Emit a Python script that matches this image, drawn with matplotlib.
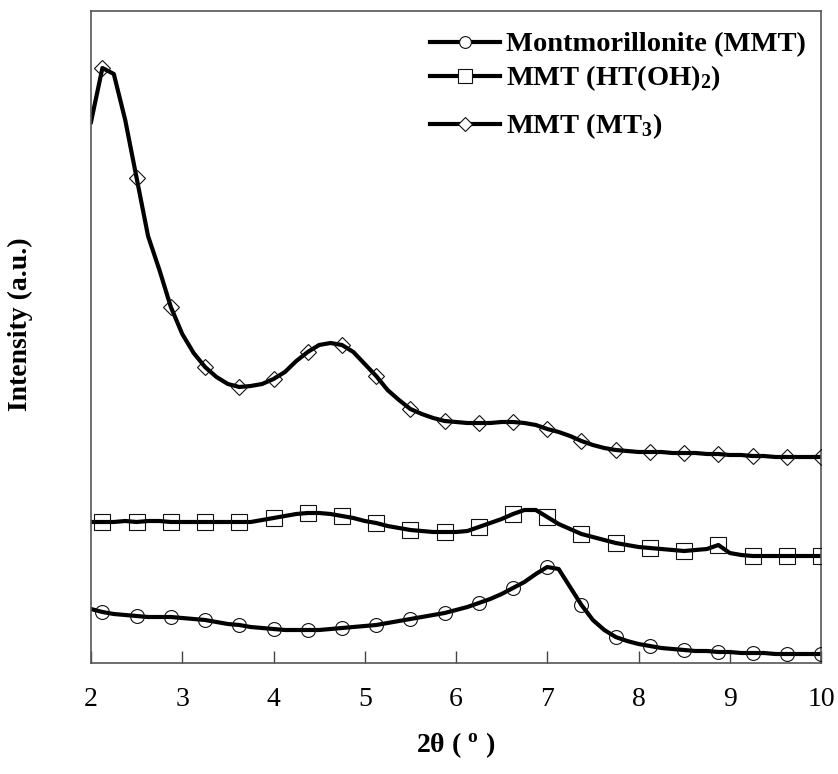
import numpy as np
import matplotlib
matplotlib.use("Agg")
import matplotlib.pyplot as plt
from matplotlib.lines import Line2D

plt.rcParams['font.family'] = ['Liberation Serif', 'DejaVu Serif']
plt.rcParams['mathtext.fontset'] = 'custom'
plt.rcParams['mathtext.rm'] = 'Liberation Serif:bold'
plt.rcParams['mathtext.bf'] = 'Liberation Serif:bold'
plt.rcParams['mathtext.it'] = 'Liberation Serif:bold:italic'

# 2theta grid (degrees), step 0.125
two_theta = np.arange(65) * 0.125 + 2.0

# Intensities (a.u.)
mt3 = [536, 590, 584, 538, 480, 422, 388, 351, 324, 305, 291, 281, 274, 271, 272, 274,
       279, 286, 297, 306, 313, 315, 313, 306, 294, 282, 268, 258, 249, 244, 240, 237,
       236, 235, 235, 235, 236, 236, 235, 233, 229, 226, 222, 217, 213, 210, 208, 207,
       206, 206, 206, 205, 205, 205, 204, 204, 203, 203, 202, 202, 201, 201, 201, 201, 201]
ht_oh2 = [136, 136, 136, 137, 136, 137, 137, 136, 136, 136, 136, 136, 136, 136, 136, 138,
          140, 142, 144, 145, 145, 144, 142, 140, 137, 135, 132, 130, 128, 127, 126, 126,
          126, 127, 131, 135, 139, 144, 148, 148, 141, 134, 129, 124, 121, 118, 115, 113,
          111, 110, 109, 108, 107, 108, 109, 113, 105, 103, 102, 102, 102, 102, 102, 102, 102]
mmt = [49, 46, 44, 43, 42, 41, 41, 41, 40, 39, 38, 36, 34, 33, 31, 30,
       29, 28, 28, 28, 28, 29, 30, 31, 32, 33, 35, 37, 39, 41, 43, 45,
       48, 51, 55, 59, 64, 70, 76, 84, 91, 89, 71, 53, 38, 28, 21, 17,
       14, 12, 10, 9, 8, 7, 7, 6, 6, 5, 5, 5, 4, 4, 4, 4, 4]

labels = ['Montmorillonite (MMT)', r'MMT (HT(OH)$_{\mathbf{2}}$)', r'MMT (MT$_{\mathbf{3}}$)']
xticks = [2, 3, 4, 5, 6, 7, 8, 9, 10]

W, H = 838, 774
fig = plt.figure(figsize=(W / 100, H / 100), dpi=100)
ax = fig.add_axes([91 / W, 1 - 663 / H, 730 / W, 652 / H])

series = [(mmt, 'o', 10), (ht_oh2, 's', 11.5), (mt3, 'D', 8.5)]
for (vals, mk, ms) in series:
    ax.plot(two_theta, vals, color='black', lw=3.0, zorder=2)
    ax.plot(two_theta, vals, linestyle='none', marker=mk, ms=ms, markevery=(1, 3),
            mfc='none', mec='#111111', mew=0.8, zorder=3)

ax.set_xlim(2, 10)
ax.set_ylim(-5, 647)
ax.set_xticks(xticks)
ax.set_yticks([])
ax.tick_params(axis='x', direction='in', length=8.6, width=1, color='#444444',
               labelsize=20, pad=17)
for s in ax.spines.values():
    s.set_color('#555555')
    s.set_linewidth(1.2)

ax.set_xlabel(r'2θ ( $^{\mathbf{o}}$ )', fontsize=20, fontweight='bold')
ax.xaxis.set_label_coords(0.5, -0.103)
ax.set_ylabel('Intensity (a.u.)', fontsize=20, fontweight='bold')
ax.yaxis.set_label_coords(-0.079, 0.52)

# legend (drawn as handle + text rows)
row_y = [42, 76, 124]
for (vals, mk, ms), lab, yy in zip(series, labels, row_y):
    yf = 1 - yy / H
    fig.add_artist(Line2D([430 / W, 500 / W], [yf, yf], transform=fig.transFigure,
                          color='black', lw=3.0))
    fig.add_artist(Line2D([465 / W], [yf], transform=fig.transFigure, linestyle='none',
                          marker=mk, ms=ms * 0.85, mfc='white', mec='#111111', mew=0.8))
    fig.text(506 / W, 1 - (yy + 9) / H, lab, fontsize=20.5, fontweight='bold',
             ha='left', va='baseline')

fig.savefig('out.png', dpi=100)
